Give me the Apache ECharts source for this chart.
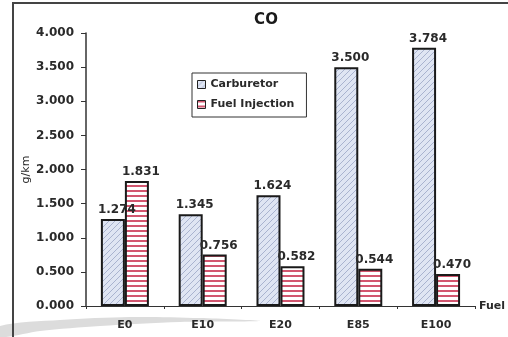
<!DOCTYPE html>
<html><head><meta charset="utf-8">
<script src="https://cdn.jsdelivr.net/npm/echarts@6/dist/echarts.min.js"></script>
<style>html,body{margin:0;padding:0;background:#fff}#c{width:508px;height:337px}</style>
</head><body><div id="c"></div>
<script>
const categories = ['E0','E10','E20','E85','E100'];
const carburetor = [1.274, 1.345, 1.624, 3.500, 3.784];
const fuelInjection = [1.831, 0.756, 0.582, 0.544, 0.470];
const seriesNames = ['Carburetor','Fuel Injection'];

function diagPattern(){
  const c=document.createElement('canvas');c.width=6;c.height=6;
  const g=c.getContext('2d');
  g.fillStyle='#dfe5f3';g.fillRect(0,0,6,6);
  g.strokeStyle='#a9b3cf';g.lineWidth=1;
  g.beginPath();
  for(let k=-6;k<=12;k+=6){g.moveTo(k,6);g.lineTo(k+6,0);}
  g.stroke();
  return c;
}
function stripePattern(){
  const c=document.createElement('canvas');c.width=6;c.height=5;
  const g=c.getContext('2d');
  g.fillStyle='#ffffff';g.fillRect(0,0,6,5);
  g.fillStyle='#d2566f';g.fillRect(0,0,6,2);
  return c;
}
const font='DejaVu Sans';
const txt='#2a2a2a';
const chart=echarts.init(document.getElementById('c'),null,{renderer:'canvas'});
const lbl={show:true,position:'top',distance:3,offset:[4,0],fontFamily:font,fontWeight:'bold',fontSize:12,color:txt,formatter:p=>p.value.toFixed(3)};
chart.setOption({
  animation:false,
  backgroundColor:'#fff',
  title:{text:'CO',left:261,top:8,textAlign:'center',textStyle:{fontFamily:font,fontWeight:'bold',fontSize:15,color:'#1a1a1a'}},
  legend:{
    orient:'vertical',left:192,top:73,padding:[6,12,7,5],itemGap:9,
    borderColor:'#333',borderWidth:1,
    itemWidth:8,itemHeight:8,
    textStyle:{fontFamily:font,fontWeight:'bold',fontSize:11,color:txt},
    data:seriesNames.map(n=>({name:n,icon:'rect',itemStyle:{borderColor:'#222',borderWidth:1}}))
  },
  grid:{left:86,right:29,top:33,bottom:31},
  xAxis:{
    type:'category',data:categories,
    name:'Fuel',nameLocation:'end',nameGap:4,
    nameTextStyle:{fontFamily:font,fontWeight:'bold',fontSize:11,color:txt,verticalAlign:'middle'},
    axisLine:{lineStyle:{color:'#333',width:1}},
    axisTick:{show:true,length:3,lineStyle:{color:'#333'}},
    axisLabel:{fontFamily:font,fontWeight:'bold',fontSize:11,color:txt,margin:14}
  },
  yAxis:{
    type:'value',min:0,max:4,interval:0.5,
    name:'g/km',nameLocation:'middle',nameGap:54,nameRotate:90,nameMoveOverlap:false,
    nameTextStyle:{fontFamily:font,fontSize:11,color:txt},
    axisLine:{show:true,lineStyle:{color:'#333',width:1.5}},
    axisTick:{show:true,length:5,lineStyle:{color:'#333'}},
    splitLine:{show:false},
    axisLabel:{fontFamily:font,fontWeight:'bold',fontSize:12,color:txt,margin:12,formatter:v=>v.toFixed(3)}
  },
  series:[
    {name:seriesNames[0],type:'bar',data:carburetor,barWidth:24,barGap:'0%',
     itemStyle:{color:{image:diagPattern(),repeat:'repeat'},borderColor:'#1a1a1a',borderWidth:2},
     label:lbl},
    {name:seriesNames[1],type:'bar',data:fuelInjection,barWidth:24,
     itemStyle:{color:{image:stripePattern(),repeat:'repeat'},borderColor:'#1a1a1a',borderWidth:2},
     label:lbl}
  ],
  graphic:[
    {type:'polyline',shape:{points:[[13,337],[13,3],[508,3]]},style:{stroke:'#444',lineWidth:2,fill:null},silent:true},
    {type:'polygon',shape:{points:[[0,326],[60,320],[130,317],[200,318],[260,321],[180,322],[100,326],[40,331],[0,337]],smooth:0.3},style:{fill:'#dcdcdc'},silent:true,z:-1}
  ]
});
</script></body></html>
